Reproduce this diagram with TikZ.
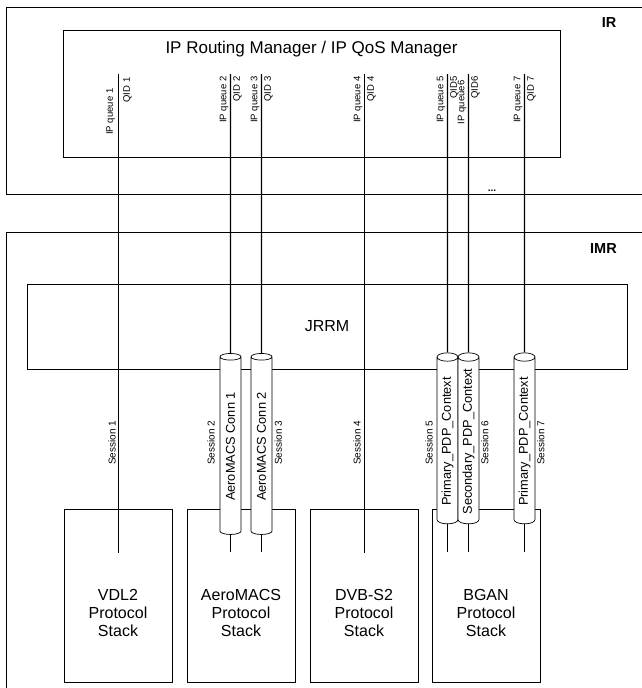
\documentclass[tikz,border=0pt]{standalone}
\usepackage{fontspec}
\setmainfont{Liberation Sans}
\usetikzlibrary{shapes.geometric}
\begin{document}
\begin{tikzpicture}[x=1pt,y=-1pt,
  box/.style={draw, line width=0.8pt, inner sep=0pt},
  conn/.style={line width=1.4pt},
  qlab/.style={rotate=90, inner sep=0.5pt, font=\fontsize{9.5}{11}\selectfont},
  slab/.style={rotate=90, inner sep=0.5pt, font=\fontsize{10}{12}\selectfont},
  cyl/.style={cylinder, draw, fill=white, line width=0.7pt, rotate=90, aspect=0.6,
    minimum width=21pt, inner xsep=1pt, inner ysep=1pt, font=\fontsize{12.8}{14}\selectfont},
  stack/.style={box, minimum width=108pt, minimum height=173pt},
  stacktext/.style={align=center, font=\fontsize{16}{18}\selectfont},
  boldlab/.style={anchor=base, font=\bfseries\fontsize{14.5}{16}\selectfont}
]
\useasboundingbox (0,0) rectangle (642,688);
\clip (0,0) rectangle (642,688);

% containers
\node[box, minimum width=660pt, minimum height=187pt, anchor=north west] (ir) at (6,7) {};
\node[box, minimum width=660pt, minimum height=480pt, anchor=north west] (imr) at (6,232) {};
\node[boldlab] (irl) at (609,27.3) {IR};
\node[boldlab] (imrl) at (603.5,253.5) {IMR};
\node[anchor=base, inner sep=0pt, font=\bfseries\fontsize{10}{11}\selectfont] (dots) at (492,191) {...};

\node[box, minimum width=497pt, minimum height=127pt, anchor=north west] (mgr) at (63,30) {};
\node[anchor=base, font=\fontsize{17}{20}\selectfont] (mgrt) at (311.5,53.5) {IP Routing Manager / IP QoS Manager};

\node[box, minimum width=600pt, minimum height=85pt, font=\fontsize{16}{18}\selectfont] (jrrm) at (327,326.5) {JRRM};

% protocol stacks
\node[stack] (vdl) at (118,595.5) {};
\node[stack] (aero) at (241,595.5) {};
\node[stack] (dvb) at (364,595.5) {};
\node[stack] (bgan) at (486,595.5) {};
\node[stacktext] (vdlt) at (118,612.5) {VDL2\\Protocol\\Stack};
\node[stacktext] (aerot) at (241,612.5) {AeroMACS\\Protocol\\Stack};
\node[stacktext] (dvbt) at (364,612.5) {DVB-S2\\Protocol\\Stack};
\node[stacktext] (bgant) at (486,612.5) {BGAN\\Protocol\\Stack};

% queue line ends
\coordinate (q1) at (118.5,74); \coordinate (e1) at (118.5,553);
\coordinate (q2) at (230.5,74); \coordinate (e2) at (230.5,552);
\coordinate (q3) at (261.5,74); \coordinate (e3) at (261.5,552);
\coordinate (q4) at (364.5,74); \coordinate (e4) at (364.5,553);
\coordinate (q5) at (447.5,74); \coordinate (e5) at (447.5,552);
\coordinate (q6) at (468.5,74); \coordinate (e6) at (468.5,552);
\coordinate (q7) at (524.5,74); \coordinate (e7) at (524.5,552);

% cylinders
\node[cyl, minimum height=181pt] (c2) at (230.5,446.5) {AeroMACS Conn 1};
\node[cyl, minimum height=181pt] (c3) at (261.5,446.5) {AeroMACS Conn 2};
\node[cyl, minimum height=171pt] (c5) at (447.5,441.5) {Primary\_PDP\_Context};
\node[cyl, minimum height=171pt] (c6) at (468.5,441.5) {Secondary\_PDP\_Context};
\node[cyl, minimum height=171pt] (c7) at (524.5,441.5) {Primary\_PDP\_Context};

% connectors
\draw[conn] (q1) -- (e1);
\draw[conn] (q4) -- (e4);
\draw[conn] (q2) -- (c2.east); \draw[conn] (c2.west) -- (e2);
\draw[conn] (q3) -- (c3.east); \draw[conn] (c3.west) -- (e3);
\draw[conn] (q5) -- (c5.east); \draw[conn] (c5.west) -- (e5);
\draw[conn] (q6) -- (c6.east); \draw[conn] (c6.west) -- (e6);
\draw[conn] (q7) -- (c7.east); \draw[conn] (c7.west) -- (e7);

% queue labels
\node[qlab, anchor=south east] (ql1) at (115.5,88) {IP queue 1};
\node[qlab, anchor=north east] (qi1) at (122.5,77) {QID 1};
\node[qlab, anchor=south east] (ql2) at (229,76) {IP queue 2};
\node[qlab, anchor=north east] (qi2) at (232.5,76) {QID 2};
\node[qlab, anchor=south east] (ql3) at (260,76) {IP queue 3};
\node[qlab, anchor=north east] (qi3) at (263.5,76) {QID 3};
\node[qlab, anchor=south east] (ql4) at (363,76) {IP queue 4};
\node[qlab, anchor=north east] (qi4) at (366.5,76) {QID 4};
\node[qlab, anchor=south east] (ql5) at (446,76) {IP queue 5};
\node[qlab, anchor=north east] (qi5) at (449.5,76) {QID5};
\node[qlab, anchor=south east] (ql6) at (467,80) {IP queue6};
\node[qlab, anchor=north east] (qi6) at (470.5,76) {QID6};
\node[qlab, anchor=south east] (ql7) at (523,76) {IP queue 7};
\node[qlab, anchor=north east] (qi7) at (526.5,76) {QID 7};

% session labels
\node[slab, anchor=south] (s1) at (116.5,443) {Session 1};
\node[slab, anchor=south] (s2) at (215.5,443) {Session 2};
\node[slab, anchor=north] (s3) at (274,443) {Session 3};
\node[slab, anchor=south] (s4) at (361.5,443) {Session 4};
\node[slab, anchor=south] (s5) at (433.5,443) {Session 5};
\node[slab, anchor=north] (s6) at (480.5,443) {Session 6};
\node[slab, anchor=north] (s7) at (536.5,443) {Session 7};
\end{tikzpicture}
\end{document}
